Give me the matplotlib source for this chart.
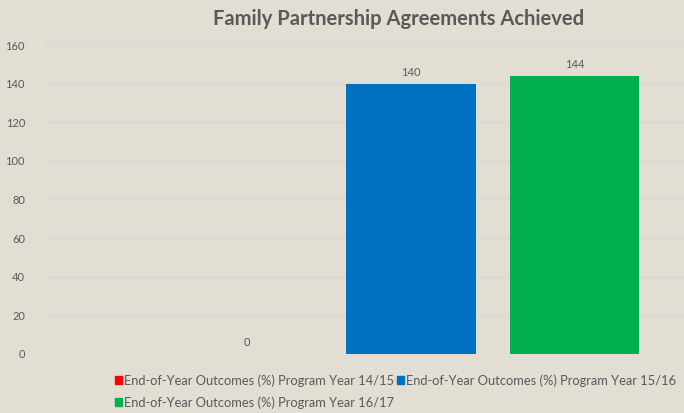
import matplotlib.pyplot as plt
from matplotlib.patches import Patch

# data
series_labels = ["End-of-Year Outcomes (%) Program Year 14/15",
                 "End-of-Year Outcomes (%) Program Year 15/16",
                 "End-of-Year Outcomes (%) Program Year 16/17"]
values = [0, 140, 144]
colors = ["#FF0000", "#0070C0", "#00B050"]
y_ticks = [0, 20, 40, 60, 80, 100, 120, 140, 160]

bg = "#E3DED3"
text_col = "#595959"

fig = plt.figure(figsize=(6.84, 4.13), dpi=100, facecolor=bg)
ax = fig.add_axes([0.063, 0.143, 0.937, 0.748], facecolor=bg)

positions = [0, 1, 2]
bars = ax.bar(positions, values, width=0.787, color=colors, zorder=3)

# data labels
for x, v in zip(positions, values):
    ax.text(x, v + 3, str(v), ha="center", va="bottom", fontsize=8,
            color=text_col, family="Lato")

ax.set_xlim(-1.244, 2.665)
ax.set_ylim(0, 160)
ax.set_yticks(y_ticks)
ax.set_xticks([])
ax.tick_params(axis="y", length=0, pad=13, labelsize=8, labelcolor=text_col)
for lab in ax.get_yticklabels():
    lab.set_family("Lato")
ax.grid(axis="y", color="#DAD8D2", linewidth=1, zorder=0)
for s in ax.spines.values():
    s.set_visible(False)

fig.text(0.582, 0.955, "Family Partnership Agreements Achieved",
         ha="center", va="center", fontsize=14.5, fontweight="bold",
         color=text_col, family="Lato")

# legend: reorder so row 1 = 14/15, 15/16 and row 2 = 16/17
handles = [Patch(color=c) for c in colors]
order = [0, 2, 1]
leg = fig.legend([handles[i] for i in order], [series_labels[i] for i in order],
                 ncol=2, loc="upper left", bbox_to_anchor=(0.168, 0.094),
                 frameon=False, fontsize=9.3, handlelength=0.55, handleheight=0.55,
                 handletextpad=0.15, columnspacing=0.25, labelspacing=0.75,
                 borderpad=0, borderaxespad=0)
for t in leg.get_texts():
    t.set_color(text_col)
    t.set_family("Lato")

plt.savefig("out.png", dpi=100, facecolor=bg)
